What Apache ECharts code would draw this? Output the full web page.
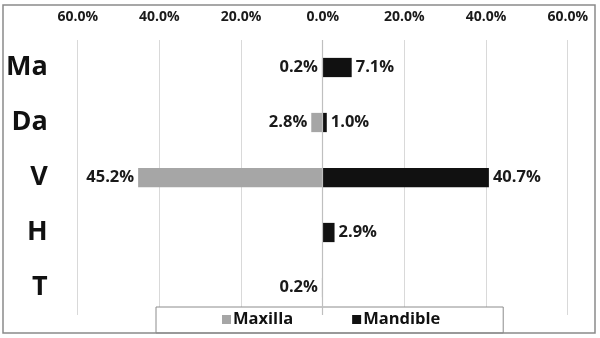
<!DOCTYPE html>
<html>
<head>
<meta charset="utf-8">
<script src="https://cdn.jsdelivr.net/npm/echarts@6/dist/echarts.min.js"></script>
<style>
  html, body { margin: 0; padding: 0; background: #fff; }
  #chart { width: 600px; height: 338px; }
</style>
</head>
<body>
<div id="chart"></div>
<script>
// Tooth-site categories, top to bottom
const categories = ['Ma', 'Da', 'V', 'H', 'T'];
// Percentages per jaw
const maxilla = [0.2, 2.8, 45.2, 0, 0.2];
const mandible = [7.1, 1.0, 40.7, 2.9, 0];
// Axis ticks (symmetric around zero)
const tickMin = -60;
const tickMax = 60;
const tickStep = 20;

const FONT = '"Open Sans", "Noto Sans", sans-serif';

const fmtPct = v => Math.abs(v).toFixed(1) + '%';

const chart = echarts.init(document.getElementById('chart'), null, { renderer: 'canvas' });

chart.setOption({
  animation: false,
  backgroundColor: '#ffffff',
  textStyle: { fontFamily: FONT },
  grid: { left: 77.7, right: 32.3, top: 40, bottom: 23, containLabel: false },
  xAxis: {
    type: 'value',
    position: 'top',
    min: tickMin,
    max: tickMax,
    interval: tickStep,
    axisLine: { show: false },
    axisTick: { show: false },
    splitLine: { show: true, lineStyle: { color: '#d9d9d9', width: 1 } },
    axisLabel: {
      formatter: fmtPct,
      margin: 16,
      fontFamily: FONT,
      fontWeight: 'bold',
      fontSize: 14,
      color: '#1a1a1a'
    }
  },
  yAxis: {
    type: 'category',
    data: categories,
    inverse: true,
    axisLine: { show: false },
    axisTick: { show: false },
    splitLine: { show: false },
    axisLabel: {
      margin: 30,
      fontFamily: FONT,
      fontWeight: 'bold',
      fontSize: 27,
      color: '#111111'
    }
  },
  legend: {
    left: 156,
    top: 307,
    padding: [4, 63, 5, 66],
    borderColor: '#8c8c8c',
    borderWidth: 1,
    backgroundColor: '#ffffff',
    itemWidth: 9,
    itemHeight: 9,
    itemGap: 59,
    icon: 'rect',
    textStyle: {
      fontFamily: FONT,
      fontWeight: 'bold',
      fontSize: 16.5,
      color: '#111111',
      padding: [0, 0, 0, -3]
    },
    data: ['Maxilla', 'Mandible']
  },
  graphic: [{
    type: 'rect',
    shape: { x: 3, y: 5, width: 592, height: 328 },
    style: { fill: 'none', stroke: '#8a8a8a', lineWidth: 1.5 },
    z: 100,
    silent: true
  }],
  series: [
    {
      name: 'Maxilla',
      type: 'bar',
      data: maxilla.map(v => -v),
      barWidth: '35%',
      barGap: '-100%',
      itemStyle: { color: '#a6a6a6' },
      label: {
        show: true,
        position: 'left',
        distance: 4,
        formatter: p => (p.value === 0 ? '' : fmtPct(p.value)),
        fontFamily: FONT,
        fontWeight: 'bold',
        fontSize: 16.5,
        color: '#1a1a1a'
      },
      markLine: {
        silent: true,
        symbol: 'none',
        label: { show: false },
        lineStyle: { color: '#bfbfbf', type: 'solid', width: 1.2 },
        data: [{ xAxis: 0 }]
      }
    },
    {
      name: 'Mandible',
      type: 'bar',
      data: mandible,
      barWidth: '35%',
      barGap: '-100%',
      itemStyle: { color: '#111111' },
      label: {
        show: true,
        position: 'right',
        distance: 4,
        formatter: p => (p.value === 0 ? '' : fmtPct(p.value)),
        fontFamily: FONT,
        fontWeight: 'bold',
        fontSize: 16.5,
        color: '#1a1a1a'
      }
    }
  ]
});
</script>
</body>
</html>
